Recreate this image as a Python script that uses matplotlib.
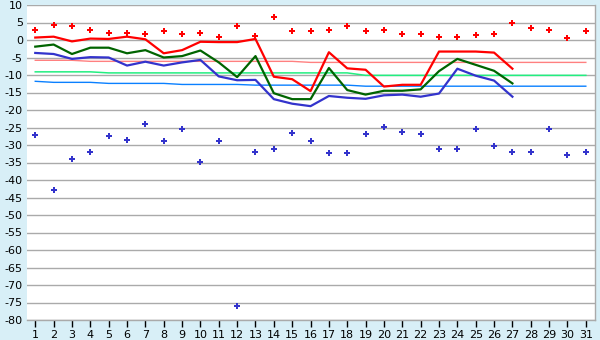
import numpy as np
import matplotlib
matplotlib.use("Agg")
import matplotlib.pyplot as plt

plt.rcParams["axes.unicode_minus"] = False

days = np.arange(1, 32)

# daily extremes (markers)
t_max = [3.0, 4.2, 3.9, 2.8, 1.9, 1.9, 1.6, 2.5, 1.6, 1.9, 0.8, 3.9, 1.1, 6.6, 2.5, 2.5,
         2.8, 3.9, 2.5, 3.0, 1.6, 1.6, 1.0, 1.0, 1.3, 1.6, 4.8, 3.3, 2.8, 0.5, 2.5]
t_min = [-27.2, -42.9, -34.1, -32.1, -27.5, -28.7, -24.1, -28.9, -25.5, -34.9, -28.9, -76.1,
         -32.1, -31.2, -26.7, -28.9, -32.4, -32.4, -26.9, -24.9, -26.4, -26.9, -31.2, -31.2,
         -25.5, -30.4, -32.1, -32.1, -25.5, -32.9, -32.1]

# observed daily curves (days 1..27)
obs_days = np.arange(1, 28)
mean_max = [0.7, 0.95, -0.4, 0.4, 0.3, 0.95, 0.2, -3.8, -2.9, -0.5, -0.6, -0.6, 0.3, -10.5,
            -11.2, -14.6, -3.5, -8.1, -8.5, -13.3, -12.8, -12.8, -3.3, -3.3, -3.3, -3.6, -8.2]
mean_avg = [-1.9, -1.3, -4.0, -2.2, -2.2, -3.8, -2.9, -5.0, -4.6, -3.0, -6.4, -10.6, -4.6,
            -15.2, -16.9, -16.9, -8.0, -14.3, -15.6, -14.5, -14.5, -14.1, -8.9, -5.4, -7.1,
            -8.8, -12.4]
mean_min = [-3.7, -4.0, -5.4, -4.9, -5.0, -7.3, -6.2, -7.3, -6.4, -5.7, -10.4, -11.5, -11.4,
            -16.9, -18.2, -18.9, -16.0, -16.5, -16.8, -15.8, -15.6, -16.2, -15.3, -8.2, -10.2,
            -11.6, -16.2]

# climate normals
norm_max = [-5.8] * 3 + [-6.1] * 12 + [-6.4] * 16
norm_avg = [-9.1] * 4 + [-9.4] * 14 + [-10.1] * 13
norm_min = [-11.8] + [-12.1] * 3 + [-12.4] * 4 + [-12.7] * 4 + [-12.9] * 6 + [-13.2] * 13

bg = "#d8eff7"
fig = plt.figure(figsize=(6, 3.4), dpi=100, facecolor=bg)
ax = fig.add_axes([27 / 600, 20 / 340, 568 / 600, 315 / 340])
ax.set_facecolor("white")

ax.plot(days, norm_max, color="#ff8080", lw=1.0, zorder=2)
ax.plot(days, norm_avg, color="#22ee80", lw=1.1, zorder=2)
ax.plot(days, norm_min, color="#0a80ff", lw=1.0, zorder=2)

ax.plot(obs_days, mean_max, color="#ff0000", lw=1.6, zorder=3)
ax.plot(obs_days, mean_avg, color="#006400", lw=1.6, zorder=3)
ax.plot(obs_days, mean_min, color="#3333cc", lw=1.6, zorder=3)

ax.plot(days, t_max, ls="none", marker="P", ms=4.5, color="#ff0000", mew=0, zorder=4)
ax.plot(days, t_min, ls="none", marker="P", ms=4.5, color="#3333cc", mew=0, zorder=4)

ax.set_xlim(0.55, 31.5)
ax.set_ylim(-80, 10)
ax.set_xticks(days)
ax.set_yticks(np.arange(-80, 11, 5))
ax.yaxis.grid(True, color="#aaaaaa", lw=1)
ax.set_axisbelow(True)

ax.tick_params(axis="y", length=0, pad=3, labelsize=8, colors="black")
ax.tick_params(axis="x", length=5, width=1, direction="out", pad=2, labelsize=8,
               colors="black")

for side in ["left", "top"]:
    ax.spines[side].set_visible(False)
for side in ["right", "bottom"]:
    ax.spines[side].set_color("#aaaaaa")
    ax.spines[side].set_linewidth(1)

fig.savefig("out.png", dpi=100, facecolor=bg)
